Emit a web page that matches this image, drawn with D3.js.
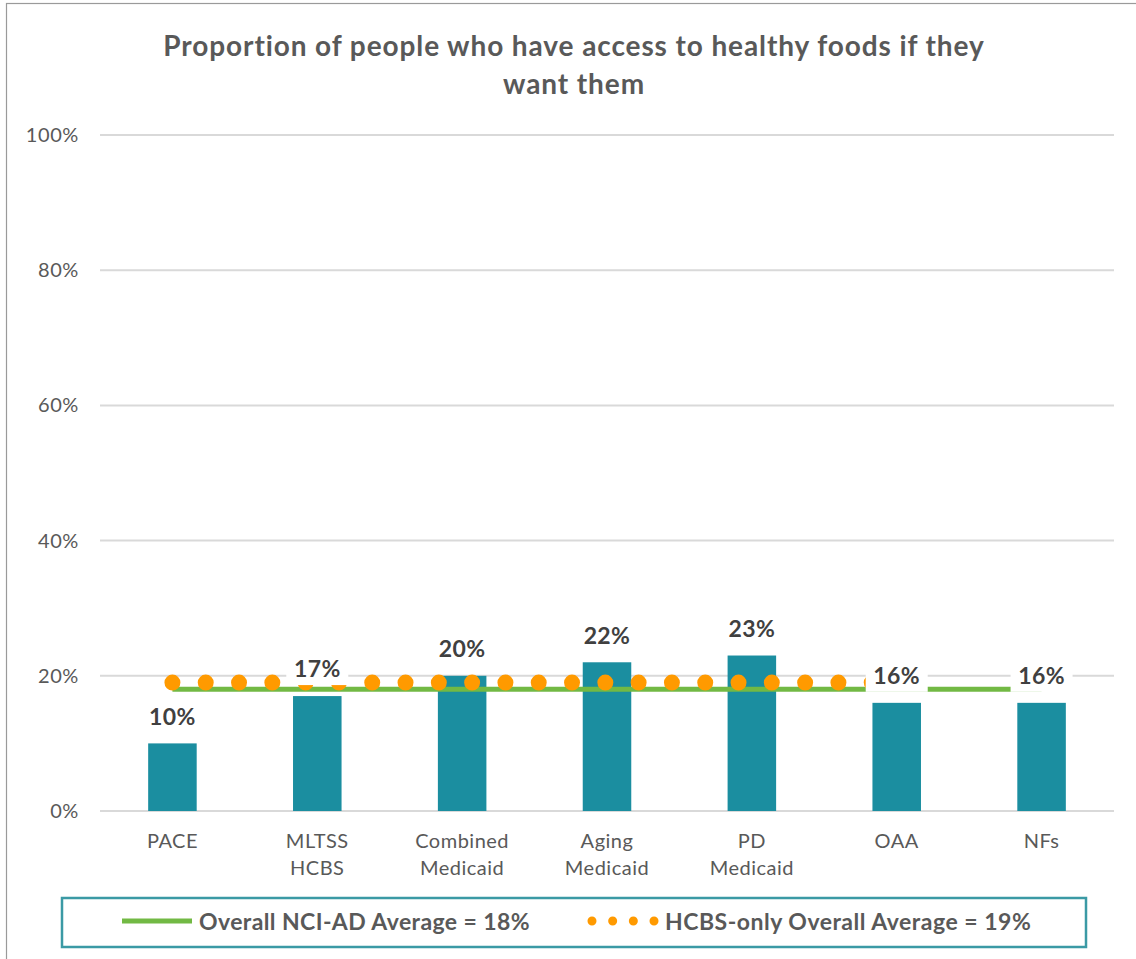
<!DOCTYPE html>
<html>
<head>
<meta charset="utf-8">
<script src="https://cdn.jsdelivr.net/npm/d3@7/dist/d3.min.js"></script>
<style>
  html, body { margin: 0; padding: 0; background: #fff; }
  svg { display: block; font-family: Lato, "Open Sans", sans-serif; }
</style>
</head>
<body>
<svg id="chart" width="1136" height="959"></svg>
<script>
// Program categories (two-line axis labels) and their percentages
const categories = ["PACE", "MLTSS HCBS", "Combined Medicaid", "Aging Medicaid", "PD Medicaid", "OAA", "NFs"];
const categoryLines = [["PACE"], ["MLTSS", "HCBS"], ["Combined", "Medicaid"], ["Aging", "Medicaid"], ["PD", "Medicaid"], ["OAA"], ["NFs"]];
const values = [0.10, 0.17, 0.20, 0.22, 0.23, 0.16, 0.16];

// Reference averages and the categories each one spans
const overallAvg = 0.18;
const overallSpan = ["PACE", "MLTSS HCBS", "Combined Medicaid", "Aging Medicaid", "PD Medicaid", "OAA", "NFs"];
const hcbsAvg = 0.19;
const hcbsSpan = ["PACE", "MLTSS HCBS", "Combined Medicaid", "Aging Medicaid", "PD Medicaid", "OAA"];

const yTicks = [0, 0.2, 0.4, 0.6, 0.8, 1.0];
const titleLines = ["Proportion of people who have access to healthy foods if they", "want them"];
const legendOverall = "Overall NCI-AD Average = 18%";
const legendHcbs = "HCBS-only Overall Average = 19%";

const BAR = "#1b8ea0", GREEN = "#72b944", ORANGE = "#ff9a00", TEXT = "#595959", LABEL = "#404040";

const svg = d3.select("#chart");

// outer chart frame
svg.append("rect").attr("x", 6.5).attr("y", 3.5).attr("width", 1200).attr("height", 1000)
  .attr("fill", "none").attr("stroke", "#9a9a9a").attr("stroke-width", 1.2);

const x = d3.scaleBand().domain(categories).range([100, 1114]).padding(0);
const y = d3.scaleLinear().domain([0, 1]).range([811, 135]);
const cx = c => x(c) + x.bandwidth() / 2;
const barW = x.bandwidth() * 0.335;

// title
svg.append("g").selectAll("text").data(titleLines).join("text")
  .attr("x", 574).attr("y", (d, i) => 56 + i * 38)
  .attr("text-anchor", "middle").attr("fill", TEXT)
  .attr("font-size", 28).attr("font-weight", 700).attr("letter-spacing", 0.9).text(d => d);

// gridlines
svg.append("g").selectAll("line").data(yTicks).join("line")
  .attr("x1", 100).attr("x2", 1114)
  .attr("y1", d => y(d)).attr("y2", d => y(d))
  .attr("stroke", "#d9d9d9").attr("stroke-width", 2);

// y axis labels
const yAxis = d3.axisLeft(y).tickValues(yTicks).tickFormat(d3.format(".0%")).tickSize(0).tickPadding(0);
const yg = svg.append("g").attr("transform", "translate(79,0)").call(yAxis);
yg.select(".domain").remove();
yg.selectAll("text").attr("fill", TEXT).attr("font-size", 20).attr("letter-spacing", 0.6)
  .attr("font-family", "Lato, sans-serif");

// bars
svg.append("g").selectAll("rect").data(categories).join("rect")
  .attr("x", c => cx(c) - barW / 2).attr("width", barW)
  .attr("y", (c, i) => y(values[i])).attr("height", (c, i) => y(0) - y(values[i]))
  .attr("fill", BAR);

// x axis labels
const xg = svg.append("g");
categories.forEach((c, i) => {
  const t = xg.append("text").attr("x", cx(c)).attr("y", 848)
    .attr("text-anchor", "middle").attr("fill", TEXT).attr("font-size", 20).attr("letter-spacing", 0.5);
  categoryLines[i].forEach((ln, j) => {
    t.append("tspan").attr("x", cx(c)).attr("dy", j === 0 ? 0 : 27).text(ln);
  });
});

// average lines
const line = d3.line().x(d => cx(d.c)).y(d => y(d.v));
svg.append("path").datum(overallSpan.map(c => ({ c, v: overallAvg })))
  .attr("d", line).attr("fill", "none").attr("stroke", GREEN).attr("stroke-width", 5);
svg.append("path").datum(hcbsSpan.map(c => ({ c, v: hcbsAvg })))
  .attr("d", line).attr("fill", "none").attr("stroke", ORANGE)
  .attr("stroke-width", 16).attr("stroke-linecap", "round").attr("stroke-dasharray", "0 33.3");

// value labels with white backing
const lg = svg.append("g");
categories.forEach((c, i) => {
  const ty = y(values[i]) - 27;
  lg.append("rect").attr("x", cx(c) - 31).attr("y", ty - 17).attr("width", 62).attr("height", 33).attr("fill", "#fff");
  lg.append("text").attr("x", cx(c)).attr("y", ty).attr("dy", "0.36em")
    .attr("text-anchor", "middle").attr("fill", LABEL)
    .attr("font-size", 23).attr("font-weight", 700).attr("letter-spacing", 0.4)
    .text(d3.format(".0%")(values[i]));
});

// legend
const leg = svg.append("g");
leg.append("rect").attr("x", 62).attr("y", 898).attr("width", 1024).attr("height", 49)
  .attr("fill", "#fff").attr("stroke", "#3b9aa5").attr("stroke-width", 2.5);
leg.append("line").attr("x1", 122).attr("x2", 192).attr("y1", 921).attr("y2", 921)
  .attr("stroke", GREEN).attr("stroke-width", 5);
leg.append("text").attr("x", 199).attr("y", 922).attr("dy", "0.35em")
  .attr("fill", TEXT).attr("font-size", 23).attr("font-weight", 700).attr("letter-spacing", 0.4).text(legendOverall);
leg.append("line").attr("x1", 592).attr("x2", 655).attr("y1", 921).attr("y2", 921)
  .attr("stroke", ORANGE).attr("stroke-width", 9).attr("stroke-linecap", "round").attr("stroke-dasharray", "0 20.67");
leg.append("text").attr("x", 665).attr("y", 922).attr("dy", "0.35em")
  .attr("fill", TEXT).attr("font-size", 23).attr("font-weight", 700).attr("letter-spacing", 0.5).text(legendHcbs);
</script>
</body>
</html>
